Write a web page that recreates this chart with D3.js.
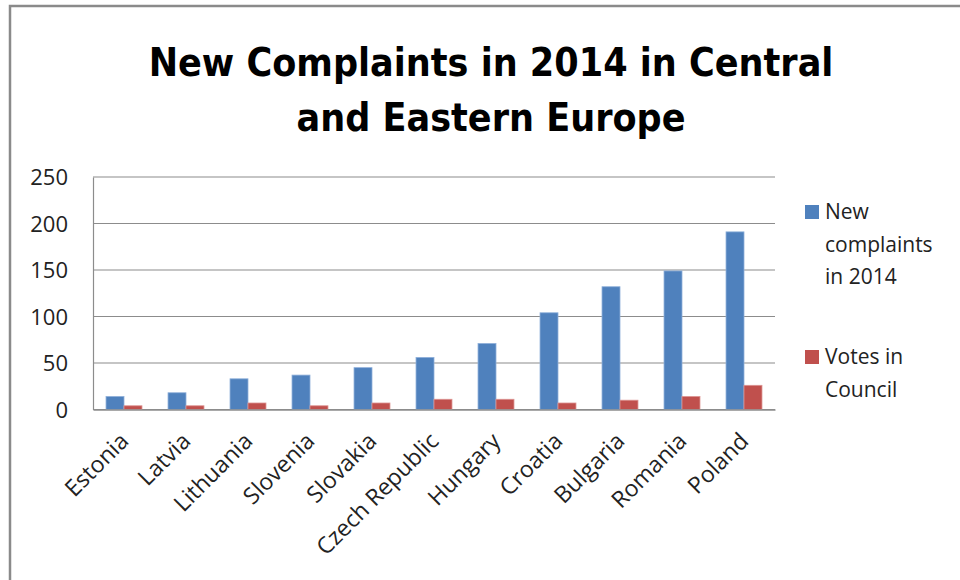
<!DOCTYPE html>
<html>
<head>
<meta charset="utf-8">
<script src="https://cdn.jsdelivr.net/npm/d3@7"></script>
<style>
  html, body { margin: 0; padding: 0; background: #fff; }
  svg { display: block; }
  .tick text { fill: #222; }
</style>
</head>
<body>
<svg id="chart" width="960" height="580"></svg>
<script>
/*    ========    DATA    =========    */

var countries = ["Estonia", "Latvia", "Lithuania", "Slovenia", "Slovakia",
    "Czech Republic", "Hungary", "Croatia", "Bulgaria", "Romania", "Poland"];
var complaints = [14, 18, 33, 37, 45, 56, 71, 104, 132, 149, 191];
var votes = [4, 4, 7, 4, 7, 11, 11, 7, 10, 14, 26];
var seriesNames = ["New complaints in 2014", "Votes in Council"];
var yTicks = [0, 50, 100, 150, 200, 250];
var titleLines = ["New Complaints in 2014 in Central", "and Eastern Europe"];

/*    ========    SETTINGS    =========    */

var svg = d3.select("#chart");
var colors = ["#4F81BD", "#C0504D"];
var edge = ["#8FB0DA", "#DC9492"];

var plotLeft = 93, plotRight = 775, plotTop = 177, plotBottom = 409.5;
var font = "'Open Sans', 'Noto Sans', sans-serif";

// outer frame (only top/left visible)
svg.append("rect")
    .attr("x", 10).attr("y", 6)
    .attr("width", 1200).attr("height", 1200)
    .attr("fill", "none")
    .attr("stroke", "#8a8a8a")
    .attr("stroke-width", 2.5);

/*    ========    TITLE    =========    */

var title = svg.append("g").attr("class", "title");
var titleY = [76, 131];
titleLines.forEach(function(t, i) {
    title.append("text")
        .attr("x", 491)
        .attr("y", titleY[i])
        .attr("text-anchor", "middle")
        .style("font-family", "'Liberation Sans Narrow', 'DejaVu Sans Condensed', 'Open Sans', sans-serif")
        .style("font-weight", "bold")
        .style("font-size", "44px")
        .attr("fill", "#000")
        .text(t);
});
// fit first line to the width of the reference title
var w0 = title.select("text").node().getComputedTextLength();
var fs = 44 * 685 / w0;
title.selectAll("text").style("font-size", fs + "px");

/*    ========    SCALES / AXES    =========    */

var x0 = d3.scaleBand()
    .domain(countries)
    .range([plotLeft, plotRight])
    .paddingInner(0.42)
    .paddingOuter(0.21);

var x1 = d3.scaleBand()
    .domain([0, 1])
    .range([0, x0.bandwidth()]);

var y = d3.scaleLinear()
    .domain([0, 250])
    .range([plotBottom, plotTop]);

// gridlines
svg.append("g")
    .attr("class", "grid")
    .selectAll("line")
    .data(yTicks)
    .enter().append("line")
    .attr("x1", plotLeft).attr("x2", plotRight)
    .attr("y1", function(d) { return y(d); })
    .attr("y2", function(d) { return y(d); })
    .attr("stroke", "#8c8c8c")
    .attr("stroke-width", 1.2);

// y axis
var axisY = svg.append("g")
    .attr("transform", "translate(" + plotLeft + ",0)")
    .call(d3.axisLeft(y).tickValues(yTicks).tickSize(0).tickPadding(25));
axisY.select(".domain").attr("stroke", "#8c8c8c").attr("stroke-width", 1.2);
axisY.selectAll("text")
    .style("font-family", font)
    .style("font-size", "22px")
    .attr("dy", "0.36em");

/*    ========    BARS    =========    */

var rows = countries.map(function(c, i) { return {c: c, v: [complaints[i], votes[i]]}; });

var groups = svg.append("g").attr("class", "bars")
    .selectAll("g")
    .data(rows)
    .enter().append("g")
    .attr("transform", function(d) { return "translate(" + x0(d.c) + ",0)"; });

groups.selectAll("rect")
    .data(function(d) { return d.v.map(function(v, k) { return {k: k, v: v}; }); })
    .enter().append("rect")
    .attr("x", function(d) { return x1(d.k); })
    .attr("width", x1.bandwidth())
    .attr("y", function(d) { return y(d.v); })
    .attr("height", function(d) { return y(0) - y(d.v); })
    .attr("fill", function(d) { return colors[d.k]; })
    .attr("stroke", function(d) { return edge[d.k]; })
    .attr("stroke-width", 0.8);

// x axis
var axisX = svg.append("g")
    .attr("transform", "translate(0," + plotBottom + ")")
    .call(d3.axisBottom(x0).tickSize(0).tickPadding(0));
axisX.select(".domain").attr("stroke", "#8c8c8c").attr("stroke-width", 1.5);
axisX.selectAll("text")
    .style("font-family", font)
    .style("font-size", "23px")
    .attr("text-anchor", "end")
    .attr("dy", 0)
    .attr("transform", "translate(6,33) rotate(-45)");

/*    ========    LEGEND    =========    */

var legendLines = [["New", "complaints", "in 2014"], ["Votes in", "Council"]];
var legendY = [219, 364];
var legend = svg.append("g").attr("class", "legend");
seriesNames.forEach(function(s, i) {
    legend.append("rect")
        .attr("x", 805).attr("y", legendY[i] - 14)
        .attr("width", 14).attr("height", 14)
        .attr("fill", colors[i]);
    var t = legend.append("text")
        .attr("x", 825).attr("y", legendY[i])
        .style("font-family", font)
        .style("font-size", "21px")
        .attr("fill", "#222");
    legendLines[i].forEach(function(l, j) {
        t.append("tspan")
            .attr("x", 825)
            .attr("dy", j === 0 ? 0 : 32.5)
            .text(l);
    });
});
</script>
</body>
</html>
